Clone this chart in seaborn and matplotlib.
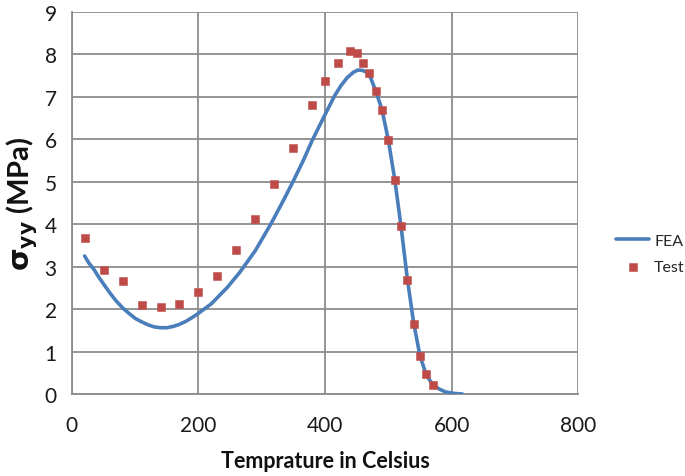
import numpy as np
import pandas as pd
import matplotlib
matplotlib.use("Agg")
import matplotlib.pyplot as plt
import seaborn as sns

# FEA curve
fea_x = [20, 27, 35, 42, 50, 60, 70, 80, 90, 100, 110, 120, 130, 140, 150, 160, 170,
         180, 190, 200, 220, 245, 265, 290, 315, 335, 350, 365, 380, 400, 415, 425,
         435, 445, 452, 460, 466, 472, 480, 490, 500, 510, 520, 530, 540, 550, 560,
         570, 580, 590, 600, 610, 617]
fea_y = [3.25, 3.08, 2.93, 2.76, 2.59, 2.38, 2.19, 2.03, 1.90, 1.78, 1.70, 1.63,
         1.58, 1.56, 1.56, 1.59, 1.64, 1.71, 1.80, 1.90, 2.12, 2.50, 2.86, 3.38,
         4.02, 4.58, 5.02, 5.48, 5.98, 6.58, 7.02, 7.26, 7.45, 7.58, 7.63, 7.62,
         7.57, 7.45, 7.14, 6.70, 5.98, 5.07, 3.96, 2.72, 1.68, 0.90, 0.45, 0.22,
         0.12, 0.05, 0.02, 0.005, 0.0]

# Test points
test_x = [20, 50, 80, 110, 140, 170, 200, 230, 260, 290, 320, 350, 380, 400, 420,
          440, 450, 460, 470, 480, 490, 500, 510, 520, 530, 540, 550, 560, 570]
test_y = [3.67, 2.93, 2.66, 2.09, 2.06, 2.11, 2.39, 2.78, 3.38, 4.13, 4.94, 5.80,
          6.81, 7.38, 7.80, 8.07, 8.04, 7.80, 7.56, 7.13, 6.69, 5.98, 5.05, 3.95,
          2.69, 1.65, 0.90, 0.46, 0.22]

x_ticks = [0, 200, 400, 600, 800]
y_ticks = [0, 1, 2, 3, 4, 5, 6, 7, 8, 9]

fea_df = pd.DataFrame({"T": fea_x, "S": fea_y})
test_df = pd.DataFrame({"T": test_x, "S": test_y})

sns.set_theme(style="white")
plt.rcParams["font.family"] = ["Lato", "DejaVu Sans"]
plt.rcParams["mathtext.fontset"] = "dejavusans"

fig = plt.figure(figsize=(6.85, 4.77), dpi=100)
ax = fig.add_axes([0.105, 0.172, 0.739, 0.801])

grid_c = "#8c8c8c"
sns.lineplot(data=fea_df, x="T", y="S", ax=ax, color="#4A7EBB", lw=2.6,
             label="FEA", sort=False, zorder=3)
sns.scatterplot(data=test_df, x="T", y="S", ax=ax, marker="s", s=40,
                color="#BE4B48", edgecolor="#c0504d", linewidth=0.4,
                label="Test", zorder=4)

ax.set_xlim(0, 800)
ax.set_ylim(0, 9)
ax.set_xticks(x_ticks)
ax.set_yticks(y_ticks)
ax.grid(True, color=grid_c, lw=1.3)
ax.set_axisbelow(True)
for s in ["top", "right"]:
    ax.spines[s].set_visible(False)
for s in ["left", "bottom"]:
    ax.spines[s].set_color(grid_c)
    ax.spines[s].set_linewidth(1.3)
ax.tick_params(axis="both", which="major", length=5, width=1.3, color=grid_c,
               labelsize=15, labelcolor="#1a1a1a", direction="out")
ax.tick_params(axis="x", pad=10)
ax.tick_params(axis="y", pad=6)

ax.set_xlabel("Temprature in Celsius", fontsize=15.5, fontweight="bold",
              labelpad=11, color="#111111")
ax.set_ylabel(r"$\mathbf{\sigma_{yy}}$ (MPa)", fontsize=21, fontweight="bold",
              labelpad=3, color="#111111")

h, l = ax.get_legend_handles_labels()
ax.get_legend().remove()
fig.legend(h, l, loc="center left", bbox_to_anchor=(0.899, 0.466), frameon=False,
           fontsize=11.5, handlelength=2.1, handletextpad=0.3, labelspacing=0.75,
           borderpad=0, borderaxespad=0)

fig.savefig("out.png", dpi=100)
